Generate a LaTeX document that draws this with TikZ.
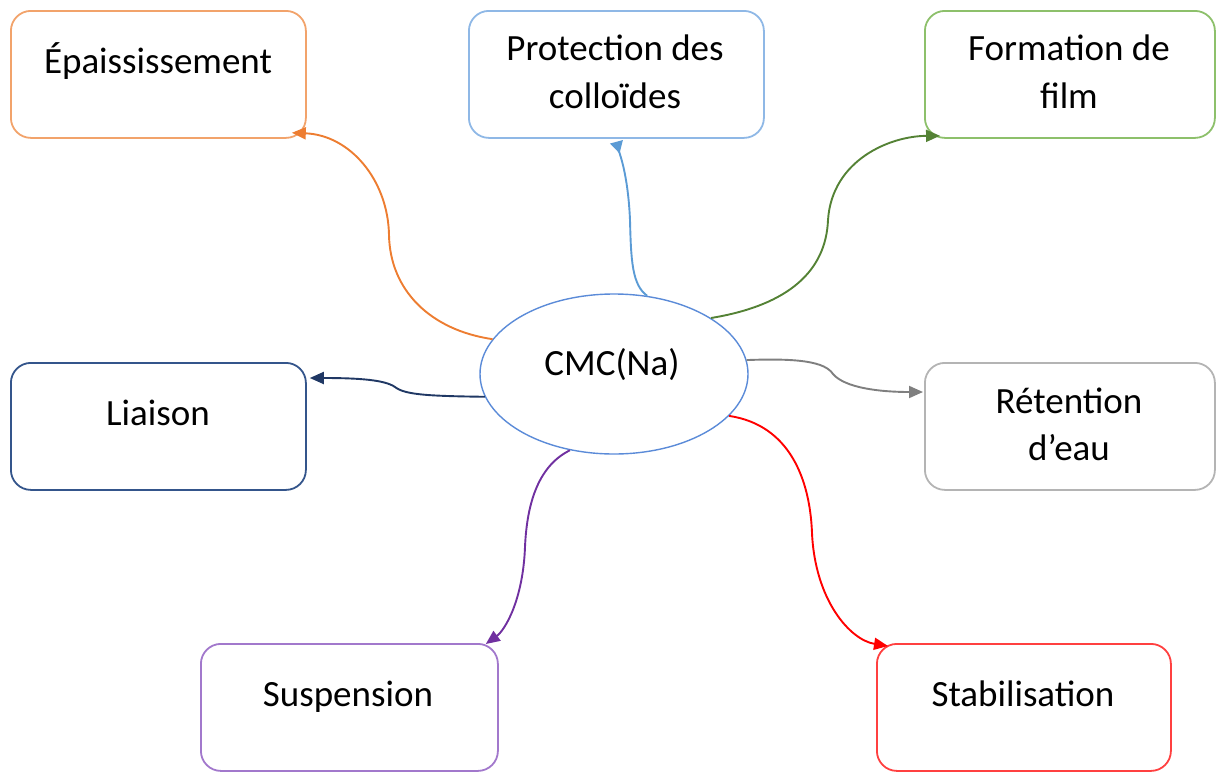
\documentclass[tikz,border=0pt]{standalone}
\usepackage{fontspec}
\setmainfont{Carlito}
\usetikzlibrary{arrows.meta,calc,shapes.geometric}
\definecolor{orBox}{HTML}{F2A36B}\definecolor{orLn}{HTML}{ED7D31}
\definecolor{blBox}{HTML}{8FB8E6}\definecolor{blLn}{HTML}{5B9BD5}
\definecolor{grBox}{HTML}{8DC06B}\definecolor{grLn}{HTML}{548235}
\definecolor{nvBox}{HTML}{34558B}\definecolor{nvLn}{HTML}{203864}
\definecolor{gyBox}{HTML}{B4B4B4}\definecolor{gyLn}{HTML}{7F7F7F}
\definecolor{puBox}{HTML}{A278CC}\definecolor{puLn}{HTML}{7030A0}
\definecolor{rdBox}{HTML}{FF4040}\definecolor{rdLn}{HTML}{FF0000}
\definecolor{elCol}{HTML}{5B8BD8}
\begin{document}
\begin{tikzpicture}[x=1pt,y=-1pt,
  box/.style={draw, line width=1.8pt, rounded corners=20pt, minimum width=#1, minimum height=127pt, inner sep=0pt, anchor=north west},
  box/.default=295pt,
  lbl/.style={font=\fontsize{37}{47}\selectfont, align=center, inner sep=0pt},
  conn/.style={line width=1.9pt, -{Triangle[length=14pt,width=12pt]}},
  revconn/.style={line width=1.9pt, -{Triangle[length=12pt,width=13pt,reversed]}}]
\useasboundingbox (0,0) rectangle (1217,774);
% boxes
\node[box, draw=orBox] (b1) at (10,10) {};
\node[box, draw=blBox] (b2) at (468,10) {};
\node[box=290pt, draw=grBox] (b3) at (924,10) {};
\node[box, draw=nvBox] (b4) at (10,362) {};
\node[box=290pt, draw=gyBox] (b5) at (924,362) {};
\node[box=297pt, draw=puBox] (b6) at (200,643) {};
\node[box=294pt, draw=rdBox] (b7) at (876,643) {};
% labels
\node[lbl, anchor=base] (t1) at (158,73) {Épaississement};
\node[lbl, anchor=base] (t2a) at (615,60) {Protection des};
\node[lbl, anchor=base] (t2b) at (615,108) {colloïdes};
\node[lbl, anchor=base] (t3a) at (1069,60) {Formation de};
\node[lbl, anchor=base] (t3b) at (1069,108) {film};
\node[lbl, anchor=base] (t4) at (158,425) {Liaison};
\node[lbl, anchor=base] (t5a) at (1069,413) {Rétention};
\node[lbl, anchor=base] (t5b) at (1069,460) {d’eau};
\node[lbl, anchor=base] (t6) at (348,706) {Suspension};
\node[lbl, anchor=base] (t7) at (1023,706) {Stabilisation};
% centre
\node[draw=elCol, line width=1.4pt, ellipse, minimum width=268pt, minimum height=160pt, inner sep=0pt] (c) at (614,374) {};
\node[lbl] (ct) at (612,365) {CMC(Na)};
% connectors
\draw[conn, orLn] (c.164) .. controls (430,330) and (390,290) .. (389,235) .. controls (388,180) and (350,135) .. ($(b1.south east)+(-15,-6)$);
\draw[revconn, blLn] (c.67) .. controls (632,285) and (631,260) .. (630,220) .. controls (628,175) and (620,155) .. ($(b2.south)+(0,3)$);
\draw[conn, grLn] (c.30) .. controls (790,305) and (826,270) .. (828,220) .. controls (832,160) and (890,136) .. ($(b3.south west)+(16,-3)$);
\draw[conn, nvLn] (c.190) .. controls (430,396) and (405,395) .. (395,387) .. controls (385,380) and (360,378) .. ($(b4.north east)+(3,16)$);
\draw[conn, gyLn] (c.6) .. controls (800,358) and (825,362) .. (833,374) .. controls (845,388) and (880,392) .. ($(b5.north west)+(-1,30)$);
\draw[conn, puLn] (c.240) .. controls (540,465) and (527,500) .. (525,547) .. controls (523,600) and (505,630) .. ($(b6.north east)+(-13,1)$);
\draw[conn, rdLn] (c.340) .. controls (790,425) and (810,480) .. (812,533) .. controls (815,600) and (850,640) .. ($(b7.north west)+(12,3)$);
\end{tikzpicture}
\end{document}
